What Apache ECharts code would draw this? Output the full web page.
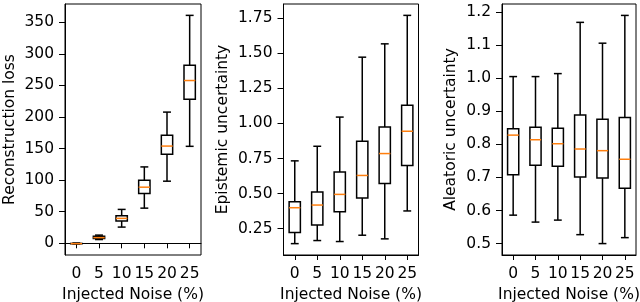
<!DOCTYPE html>
<html><head><meta charset="utf-8">
<script src="https://cdn.jsdelivr.net/npm/echarts@6/dist/echarts.min.js"></script>
<style>html,body{margin:0;padding:0;background:#fff}#c{width:640px;height:302px}</style>
</head><body><div id="c"></div>
<script>
// Data: [min, q1, median, q3, max] per noise level
const categories = ['0', '5', '10', '15', '20', '25'];
const reconBoxes = [
  [-1, -0.7, -0.5, -0.2, 0.5],
  [6, 7.5, 9, 11, 13],
  [25.7, 35.3, 39.5, 43.6, 53.7],
  [55.7, 78.9, 88.9, 100, 121],
  [98.4, 141, 154, 171, 207.8],
  [153.6, 228.3, 257.8, 282, 361]
];
const epiBoxes = [
  [0.143, 0.222, 0.399, 0.442, 0.733],
  [0.165, 0.276, 0.418, 0.511, 0.837],
  [0.158, 0.371, 0.494, 0.653, 1.045],
  [0.203, 0.468, 0.629, 0.873, 1.472],
  [0.177, 0.572, 0.785, 0.974, 1.567],
  [0.376, 0.700, 0.944, 1.129, 1.770]
];
const aleBoxes = [
  [0.586, 0.708, 0.828, 0.847, 1.005],
  [0.565, 0.737, 0.814, 0.852, 1.005],
  [0.571, 0.734, 0.802, 0.849, 1.014],
  [0.527, 0.701, 0.786, 0.889, 1.169],
  [0.500, 0.698, 0.781, 0.876, 1.106],
  [0.518, 0.667, 0.755, 0.881, 1.190]
];
const reconTicks = [0, 50, 100, 150, 200, 250, 300, 350];
const epiTicks = [0.25, 0.5, 0.75, 1.0, 1.25, 1.5, 1.75];
const aleTicks = [0.5, 0.6, 0.7, 0.8, 0.9, 1.0, 1.1, 1.2];
const xName = 'Injected Noise (%)';
const yNames = ['Reconstruction loss', 'Epistemic uncertainty', 'Aleatoric uncertainty'];

const FONT = 'DejaVu Sans';
const FS = 15.5;
const LW = 1.5;

function renderBox(params, api) {
  const x = api.value(0);
  const vals = [api.value(1), api.value(2), api.value(3), api.value(4), api.value(5)];
  const pts = vals.map(v => api.coord([x, v]));
  const cx = pts[0][0];
  const bw = api.size([1, 0])[0] * 0.5;
  const cw = bw * 0.7;
  const ls = {stroke: '#000', lineWidth: LW, fill: null};
  const children = [
    {type: 'line', shape: {x1: cx, y1: pts[0][1], x2: cx, y2: pts[1][1]}, style: ls},
    {type: 'line', shape: {x1: cx, y1: pts[3][1], x2: cx, y2: pts[4][1]}, style: ls},
    {type: 'line', shape: {x1: cx - cw / 2, y1: pts[0][1], x2: cx + cw / 2, y2: pts[0][1]}, style: ls},
    {type: 'line', shape: {x1: cx - cw / 2, y1: pts[4][1], x2: cx + cw / 2, y2: pts[4][1]}, style: ls},
    {type: 'rect', shape: {x: cx - bw / 2, y: pts[3][1], width: bw, height: pts[1][1] - pts[3][1]}, style: {stroke: '#000', lineWidth: LW, fill: '#fff'}},
    {type: 'line', shape: {x1: cx - bw / 2, y1: pts[2][1], x2: cx + bw / 2, y2: pts[2][1]}, style: {stroke: '#ff7f0e', lineWidth: LW}}
  ];
  return {type: 'group', children};
}

const grids = [
  {left: 65, top: 4, width: 136, height: 251},
  {left: 283.5, top: 4, width: 135, height: 251},
  {left: 502, top: 4, width: 134, height: 251}
];
const yCfg = [
  {min: -18.5, max: 379, ticks: reconTicks, fmt: v => String(v), gap: 47},
  {min: 0.062, max: 1.851, ticks: epiTicks, fmt: v => v.toFixed(2), gap: 52.5},
  {min: 0.4655, max: 1.2245, ticks: aleTicks, fmt: v => v.toFixed(1), gap: 43.5}
];
const allBoxes = [reconBoxes, epiBoxes, aleBoxes];

const option = {
  animation: false,
  textStyle: {fontFamily: FONT},
  grid: grids.map(g => Object.assign({show: true, borderColor: '#000', borderWidth: 1, backgroundColor: 'transparent', containLabel: false, outerBoundsMode: 'none'}, g)),
  xAxis: grids.map((g, i) => ({
    type: 'category', gridIndex: i, data: categories, boundaryGap: true,
    name: xName, nameLocation: 'middle', nameGap: 30,
    nameTextStyle: {fontFamily: FONT, fontSize: FS, color: '#000'},
    axisLine: {show: true, lineStyle: {color: '#000', width: 1}},
    axisTick: {show: true, alignWithLabel: true, length: 5, lineStyle: {color: '#000', width: 1}},
    axisLabel: {show: true, margin: 11, fontFamily: FONT, fontSize: FS, color: '#000', interval: 0},
    splitLine: {show: false}
  })),
  yAxis: yCfg.map((c, i) => ({
    type: 'value', gridIndex: i, min: c.min, max: c.max,
    name: yNames[i], nameLocation: 'middle', nameGap: c.gap,
    nameTextStyle: {fontFamily: FONT, fontSize: FS, color: '#000'},
    axisLine: {show: true, lineStyle: {color: '#000', width: 1}},
    axisTick: {show: true, length: 6, customValues: c.ticks, lineStyle: {color: '#000', width: 1}},
    axisLabel: {show: true, margin: 11, fontFamily: FONT, fontSize: FS, color: '#000', customValues: c.ticks, formatter: c.fmt},
    splitLine: {show: false}
  })),
  series: allBoxes.map((boxes, i) => ({
    type: 'custom', xAxisIndex: i, yAxisIndex: i,
    renderItem: renderBox,
    encode: {x: 0, y: [1, 2, 3, 4, 5]},
    data: boxes.map((b, k) => [k].concat(b)),
    clip: false
  }))
};

const chart = echarts.init(document.getElementById('c'), null, {renderer: 'canvas'});
chart.setOption(option);
</script>
</body></html>
